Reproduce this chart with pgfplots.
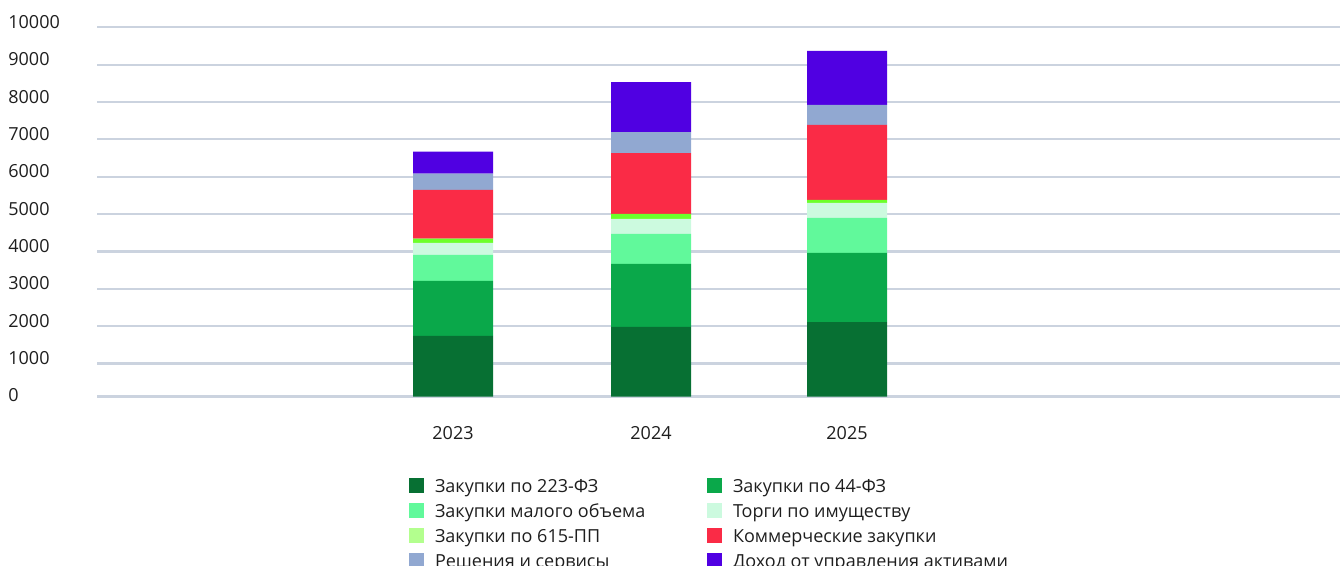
\documentclass[border=0pt]{standalone}
\usepackage{pgfplots}
\pgfplotsset{compat=1.18}
\usepackage{fontspec}
\setmainfont{Open Sans}
\definecolor{cA}{HTML}{077033}
\definecolor{cB}{HTML}{0AA84A}
\definecolor{cC}{HTML}{61F99B}
\definecolor{cD}{HTML}{CCFADF}
\definecolor{cE}{HTML}{6CFF2A}
\definecolor{cEl}{HTML}{B3FF8E}
\definecolor{cF}{HTML}{FA2B46}
\definecolor{cG}{HTML}{91A8D1}
\definecolor{cH}{HTML}{5000E2}
\definecolor{gridc}{HTML}{CBD3DF}
\definecolor{txt}{HTML}{1E1E1E}
\newcommand{\lt}[1]{\hspace*{5.5bp}\makebox[136bp][l]{\rule[-1bp]{0pt}{10bp}#1}}
\newcommand{\rt}[1]{\hspace*{5.5bp}\rule[-1bp]{0pt}{10bp}#1}
\pgfplotsset{legsq/.style={legend image code/.code={\fill[#1] (0bp,-3.75bp) rectangle (7.5bp,3.75bp);}}}
\begin{document}
\fontsize{9bp}{11bp}\selectfont
\begin{tikzpicture}
\begin{axis}[
  scale only axis, width=621.5bp, height=184.6bp,
  xmin=97, xmax=1340, ymin=117, ymax=10000,
  ybar stacked, bar width=40bp,
  scaled y ticks=false, scaled x ticks=false,
  xtick={453,651,847}, xticklabels={2023,2024,2025},
  ytick={1000,2000,3000,4000,5000,6000,7000,8000,9000,10000},
  yticklabels={1000,2000,3000,4000,5000,6000,7000,8000,9000,10000},
  extra y ticks={117}, extra y tick labels={0},
  extra y tick style={grid=major, yticklabel style={yshift=-2.05bp}},
  ymajorgrids, major grid style={draw=gridc, line width=1.1bp},
  axis line style={draw=none}, tick style={draw=none}, major tick length=0pt,
  /pgf/number format/assume math mode=true,
  yticklabel style={anchor=west, inner sep=0pt, xshift=-44.5bp, yshift=2.65bp, text=txt},
  xticklabel style={anchor=center, inner sep=0pt, yshift=-18.25bp, text=txt},
  legend columns=2,
  legend cell align=left,
  legend style={at={(0,0)}, anchor=north west, xshift=156bp, yshift=-39.1bp,
    draw=none, fill=none, inner sep=0pt, outer sep=0pt,
    nodes={inner sep=0pt, outer sep=0pt, text=txt},
    column sep=0pt, row sep=2.15bp},
]
\addplot[fill=cA, draw=none, legsq] coordinates {(453,1740) (651,1980) (847,2110)};
\addplot[fill=cB, draw=none, legsq] coordinates {(453,1470) (651,1690) (847,1850)};
\addplot[fill=cC, draw=none, legsq] coordinates {(453,700) (651,800) (847,940)};
\addplot[fill=cD, draw=none, legsq] coordinates {(453,320) (651,400) (847,400)};
\addplot[fill=cE, draw=none, legend image code/.code={\fill[cEl] (0bp,-3.75bp) rectangle (7.5bp,3.75bp);}] coordinates {(453,110) (651,135) (847,80)};
\addplot[fill=cF, draw=none, legsq] coordinates {(453,1310) (651,1630) (847,2010)};
\addplot[fill=cG, draw=none, legsq] coordinates {(453,430) (651,560) (847,535)};
\addplot[fill=cH, draw=none, legsq] coordinates {(453,590) (651,1340) (847,1445)};
\legend{\lt{Закупки по 223-ФЗ},\rt{Закупки по 44-ФЗ},\lt{Закупки малого объема},\rt{Торги по имуществу},\lt{Закупки по 615-ПП},\rt{Коммерческие закупки},\lt{Решения и сервисы},\rt{Доход от управления активами}}
\end{axis}
\pgfresetboundingbox
\path ([shift={(-48.5bp,-84.75bp)}]current axis.south west) rectangle ([shift={(0bp,13.65bp)}]current axis.north east);
\end{tikzpicture}
\end{document}
